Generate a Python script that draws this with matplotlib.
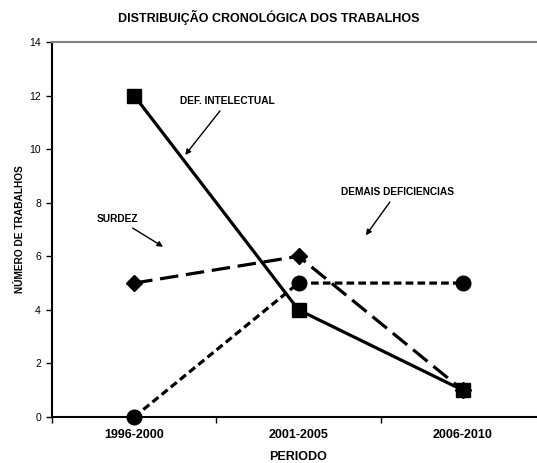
import numpy as np
import matplotlib.pyplot as plt
from matplotlib.ticker import FixedLocator

plt.rcParams['font.family'] = ['Liberation Sans', 'DejaVu Sans']

periodos = ["1996-2000", "2001-2005", "2006-2010"]
def_intelectual = [12, 4, 1]
surdez = [5, 6, 1]
demais = [0, 5, 5]

fig = plt.figure(figsize=(5.37, 4.63), dpi=100)
axes = fig.add_axes([52 / 537, 46 / 463, 493 / 537, 375 / 463])

x = np.arange(len(periodos))

axes.plot(x, surdez, color='k', linewidth=2.3, marker='D', markersize=8,
          dashes=(5.8, 2.4), label='SURDEZ')
axes.plot(x, demais, color='k', linewidth=2.3, marker='o', markersize=10.5,
          dashes=(2.4, 1.3), clip_on=False, zorder=3, label='DEMAIS DEFICIENCIAS')
axes.plot(x, def_intelectual, color='k', linewidth=2.3, marker='s', markersize=10,
          zorder=4, label='DEF. INTELECTUAL')

axes.set_xlim(-0.5, 2.5)
axes.set_ylim(0, 14)
axes.set_yticks(np.arange(0, 15, 2))
axes.set_xticks(x)
axes.set_xticklabels(periodos, fontsize=9, fontweight='bold')
axes.xaxis.set_minor_locator(FixedLocator([-0.5, 0.5, 1.5, 2.5]))
axes.tick_params(axis='x', which='major', length=0, pad=9)
axes.tick_params(axis='x', which='minor', length=4, width=1, direction='out')
axes.tick_params(axis='y', length=4, width=1, direction='out', labelsize=7.5, pad=4)

for s in ['left', 'bottom']:
    axes.spines[s].set_linewidth(1.5)
axes.spines['top'].set_color('#808080')
axes.spines['top'].set_linewidth(1.5)
axes.spines['right'].set_visible(False)

axes.set_xlabel('PERIODO', fontsize=9, fontweight='bold', labelpad=7)
axes.set_ylabel('NÚMERO DE TRABALHOS', fontsize=7.3, fontweight='bold', labelpad=3)
fig.text(0.5, 0.963, 'DISTRIBUIÇÃO CRONOLÓGICA DOS TRABALHOS', ha='center', va='center',
         fontsize=9, fontweight='bold')

arrow = dict(arrowstyle='-|>', color='k', lw=1, mutation_scale=8)
axes.annotate('DEF. INTELECTUAL', xy=(0.3, 9.7), xytext=(0.57, 11.8),
              fontsize=7.3, fontweight='bold', ha='center', va='center',
              arrowprops=arrow)
axes.annotate('SURDEZ', xy=(0.19, 6.3), xytext=(-0.1, 7.4),
              fontsize=7.3, fontweight='bold', ha='center', va='center',
              arrowprops=arrow)
axes.annotate('DEMAIS DEFICIENCIAS', xy=(1.4, 6.7), xytext=(1.6, 8.4),
              fontsize=7.3, fontweight='bold', ha='center', va='center',
              arrowprops=arrow)

fig.savefig('out.png', dpi=100)
